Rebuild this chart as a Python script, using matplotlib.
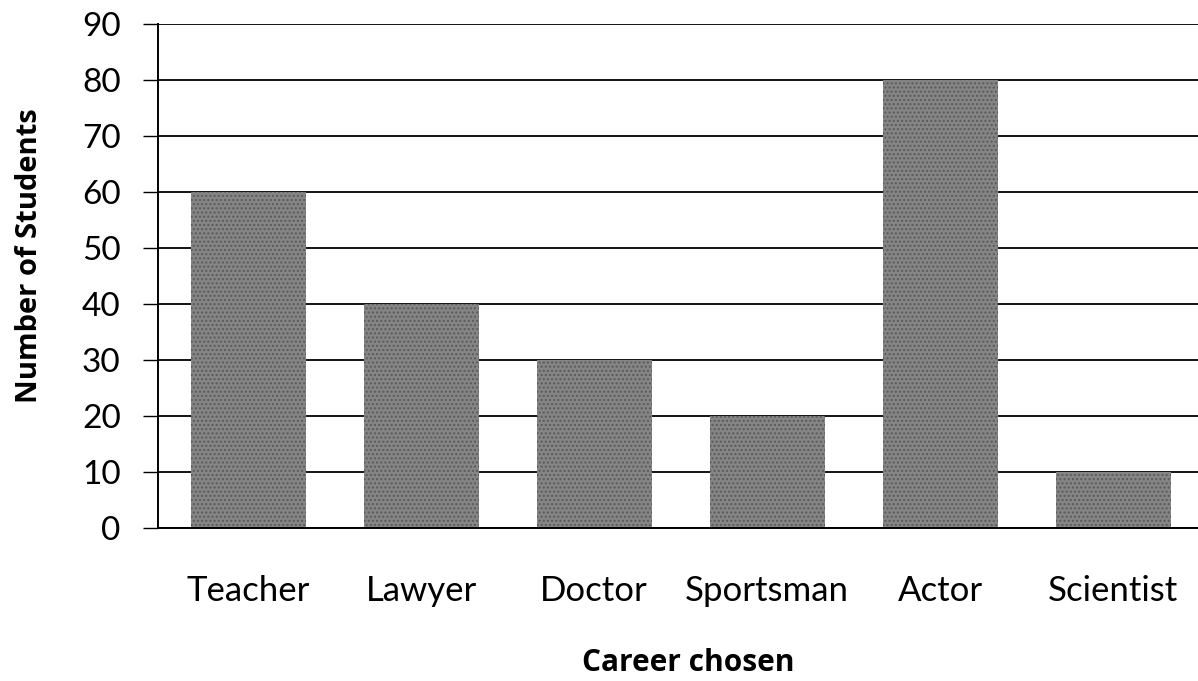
import matplotlib
matplotlib.use("Agg")
import matplotlib.pyplot as plt

careers = ["Teacher", "Lawyer", "Doctor", "Sportsman", "Actor", "Scientist"]
students = [60, 40, 30, 20, 80, 10]
y_ticks = [0, 10, 20, 30, 40, 50, 60, 70, 80, 90]

fig = plt.figure(figsize=(11.98, 6.81), dpi=100)
ax = fig.add_axes([0.132, 0.225, 0.868, 0.740])

ax.set_axisbelow(True)
ax.grid(axis="y", color="black", linewidth=1.3)
ax.bar(range(len(careers)), students, width=0.665, color="#858585",
       edgecolor="#5a5a5a", hatch="....", linewidth=0)

ax.set_ylim(0, 90)
ax.set_xlim(-0.52, 5.49)
ax.set_yticks(y_ticks)
ax.set_xticks(range(len(careers)))
ax.set_xticklabels(careers, family="Lato")
for lab in ax.get_yticklabels():
    lab.set_family("Lato")

ax.spines["top"].set_visible(False)
ax.spines["right"].set_visible(False)
ax.spines["left"].set_linewidth(1.4)
ax.spines["bottom"].set_linewidth(1.4)
ax.tick_params(axis="y", labelsize=24, length=11, width=1.0, pad=16)
ax.tick_params(axis="x", labelsize=25, length=0, pad=34)

ax.set_xlabel("Career chosen", fontsize=21.5, fontweight="bold",
              family="Open Sans", va="top")
ax.xaxis.set_label_coords(0.51, -0.238)
ax.set_ylabel("Number of Students", fontsize=21, fontweight="bold",
              family="Open Sans")
ax.yaxis.set_label_coords(-0.11, 0.54)

fig.savefig("out.png", dpi=100)
